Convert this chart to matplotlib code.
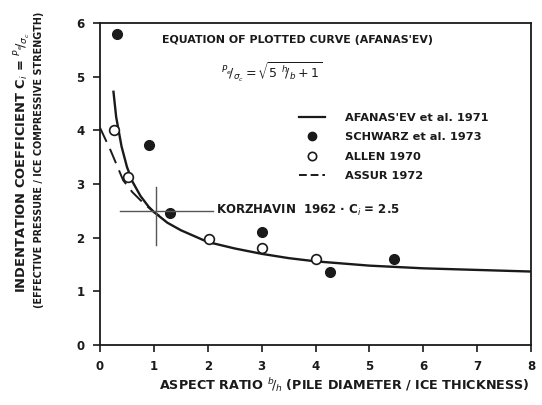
import numpy as np
import matplotlib.pyplot as plt
from matplotlib.lines import Line2D

plt.rcParams['font.family'] = ['DejaVu Sans']
plt.rcParams['mathtext.fontset'] = 'dejavusans'

# Afanas'ev curve
curve_x = [0.25, 0.3, 0.4, 0.5, 0.6, 0.75, 0.9, 1.0, 1.25, 1.5, 2.0, 2.5, 3.0, 3.5, 4.0, 5.0, 6.0, 7.0, 8.0]
curve_y = [4.72, 4.25, 3.70, 3.32, 3.05, 2.78, 2.58, 2.48, 2.28, 2.14, 1.92, 1.80, 1.70, 1.62, 1.56, 1.48, 1.43, 1.40, 1.37]

# Assur 1972 (dashed)
assur_x = [0.0, 0.2, 0.43, 0.6, 0.8, 1.0, 1.1]
assur_y = [4.05, 3.62, 3.07, 2.85, 2.65, 2.48, 2.41]

# Schwarz et al. 1973 (filled)
schwarz_x = [0.31, 0.9, 1.3, 3.0, 4.27, 5.45]
schwarz_y = [5.80, 3.72, 2.46, 2.11, 1.37, 1.61]

# Allen 1970 (open)
allen_x = [0.26, 0.52, 2.02, 3.0, 4.0]
allen_y = [4.0, 3.13, 1.97, 1.80, 1.60]

# Korzhavin 1962, Ci = 2.5
korz_x = 1.03
korz_y = 2.5
korz_hspan = [0.37, 2.09]
korz_vspan = [1.86, 2.95]

ink = '#1a1a1a'
fs = 8.2

fig = plt.figure(figsize=(5.42, 4.05), dpi=100)
ax = fig.add_axes([0.1845, 0.148, 0.7955, 0.795])

ax.plot(curve_x, curve_y, color=ink, lw=1.7)
ax.plot(assur_x, assur_y, color=ink, lw=1.4, dashes=(8, 4))
ax.plot(schwarz_x, schwarz_y, 'o', color=ink, ms=7, mec=ink)
ax.plot(allen_x, allen_y, 'o', mfc='white', mec=ink, ms=7, mew=1.2)
ax.plot(korz_hspan, [korz_y, korz_y], color='#555555', lw=1.0)
ax.plot([korz_x, korz_x], korz_vspan, color='#555555', lw=1.0)

ax.text(2.15, korz_y, 'KORZHAVIN  1962 · C$_i$ = 2.5', fontsize=8.5, color=ink,
        va='center', ha='left', fontweight='bold')

ax.text(3.67, 5.68, "EQUATION OF PLOTTED CURVE (AFANAS'EV)", fontsize=7.9, color=ink,
        ha='center', va='center', fontweight='bold')
ax.text(3.18, 5.08, r'$^{P_e}\!/_{\sigma_c} = \sqrt{5\ ^{h}\!/_{b} + 1}$', fontsize=9,
        color=ink, ha='center', va='center')

handles = [
    Line2D([], [], color=ink, lw=1.6),
    Line2D([], [], ls='none', marker='o', color=ink, ms=6),
    Line2D([], [], ls='none', marker='o', mfc='white', mec=ink, ms=6, mew=1.2),
    Line2D([], [], color=ink, lw=1.4, dashes=(4, 2)),
]
labels = ["AFANAS'EV et al. 1971", 'SCHWARZ et al. 1973', 'ALLEN 1970', 'ASSUR 1972']
leg = ax.legend(handles, labels, loc='upper left', bbox_to_anchor=(0.45, 0.735),
                frameon=False, fontsize=fs, handlelength=2.3, handletextpad=1.8,
                labelspacing=0.82, borderaxespad=0)
for t in leg.get_texts():
    t.set_fontweight('bold')
    t.set_color(ink)

ax.set_xlim(0, 8)
ax.set_ylim(0, 6)
ax.set_xticks(range(0, 9))
ax.set_yticks(range(0, 7))
ax.tick_params(direction='out', length=5, width=1.2, colors=ink, labelsize=8.5, pad=6)
for lab in ax.get_xticklabels() + ax.get_yticklabels():
    lab.set_fontweight('bold')
for s in ax.spines.values():
    s.set_linewidth(1.3)
    s.set_color(ink)

fig.text(0.635, 0.05, r'ASPECT RATIO $^{b}\!/_{h}$ (PILE DIAMETER / ICE THICKNESS)',
         fontsize=9.2, color=ink, ha='center', va='center', fontweight='bold')
fig.text(0.043, 0.60, r'INDENTATION COEFFICIENT C$_i$ = $^{P_e}\!/_{\sigma_c}$',
         fontsize=9.4, color=ink, ha='center', va='center', rotation=90, fontweight='bold')
fig.text(0.072, 0.605, '(EFFECTIVE PRESSURE / ICE COMPRESSIVE STRENGTH)',
         fontsize=6.9, color=ink, ha='center', va='center', rotation=90, fontweight='bold')

fig.savefig('out.png', dpi=100)
